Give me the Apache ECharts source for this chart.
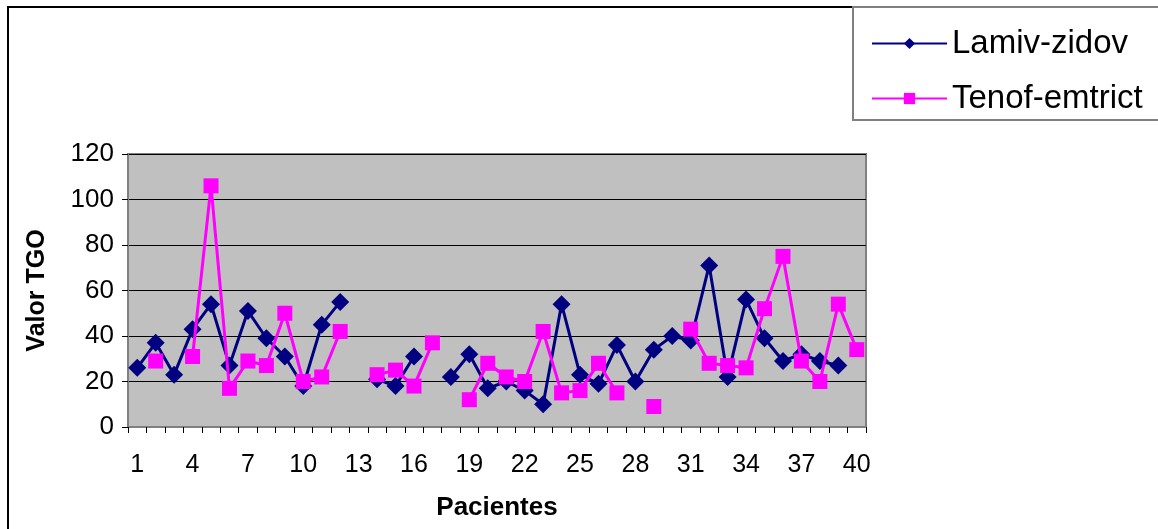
<!DOCTYPE html>
<html>
<head>
<meta charset="utf-8">
<script src="https://cdn.jsdelivr.net/npm/echarts@6/dist/echarts.min.js"></script>
<style>
  html, body { margin: 0; padding: 0; background: #fff; }
  #chart { width: 1158px; height: 529px; }
</style>
</head>
<body>
<div id="chart"></div>
<script>
const pacientes = ['1','2','3','4','5','6','7','8','9','10','11','12','13','14','15','16','17','18','19','20',
  '21','22','23','24','25','26','27','28','29','30','31','32','33','34','35','36','37','38','39','40'];

const lamivZidov = [26, 37, 23, 43, 54, 27, 51, 39, 31, 18, 45, 55, null, 21, 18, 31, null, 22, 32, 17,
  20, 16, 10, 54, 23, 19, 36, 20, 34, 40, 38, 71, 22, 56, 39, 29, 32, 29, 27, null];

const tenofEmtrict = [null, 29, null, 31, 106, 17, 29, 27, 50, 20, 22, 42, null, 23, 25, 18, 37, null, 12, 28,
  22, 20, 42, 15, 16, 28, 15, null, 9, null, 43, 28, 27, 26, 52, 75, 29, 20, 54, 34];

const yTicks = { min: 0, max: 120, interval: 20 };

const chart = echarts.init(document.getElementById('chart'));

const option = {
  animation: false,
  backgroundColor: '#fff',
  graphic: [
    // marco exterior del gráfico
    {
      type: 'rect',
      shape: { x: 8, y: 7, width: 1300, height: 700 },
      style: { fill: 'none', stroke: '#000', lineWidth: 2 },
      silent: true
    },
    // caja de la leyenda
    {
      type: 'rect',
      shape: { x: 853, y: 7, width: 400, height: 113 },
      style: { fill: '#fff', stroke: '#808080', lineWidth: 2 },
      silent: true,
      z: 0
    }
  ],
  legend: {
    orient: 'vertical',
    left: 866,
    top: 22,
    itemWidth: 75,
    itemHeight: 14,
    itemGap: 22,
    textStyle: {
      fontFamily: 'Liberation Sans, Arial, sans-serif',
      fontSize: 33,
      lineHeight: 32,
      color: '#000'
    },
    z: 5,
    data: ['Lamiv-zidov', 'Tenof-emtrict']
  },
  grid: {
    left: 128,
    top: 154,
    right: 292,
    bottom: 102,
    show: true,
    backgroundColor: '#C0C0C0',
    borderColor: '#808080',
    borderWidth: 2
  },
  xAxis: {
    type: 'category',
    data: pacientes,
    boundaryGap: true,
    name: 'Pacientes',
    nameLocation: 'middle',
    nameGap: 68,
    nameTextStyle: {
      fontFamily: 'Liberation Sans, Arial, sans-serif',
      fontWeight: 'bold',
      fontSize: 26,
      color: '#000'
    },
    axisLine: { lineStyle: { color: '#808080', width: 2 } },
    axisTick: { show: true, interval: 0, length: 6, lineStyle: { color: '#000' } },
    axisLabel: {
      interval: 2,
      margin: 26,
      fontFamily: 'Liberation Sans, Arial, sans-serif',
      fontSize: 25,
      color: '#000'
    },
    splitLine: { show: false }
  },
  yAxis: {
    type: 'value',
    min: yTicks.min,
    max: yTicks.max,
    interval: yTicks.interval,
    name: 'Valor TGO',
    nameLocation: 'middle',
    nameGap: 78,
    nameTextStyle: {
      fontFamily: 'Liberation Sans, Arial, sans-serif',
      fontWeight: 'bold',
      fontSize: 25,
      color: '#000'
    },
    axisLine: { show: true, lineStyle: { color: '#808080', width: 2 } },
    axisTick: { show: true, length: 6, lineStyle: { color: '#000' } },
    axisLabel: {
      margin: 14,
      fontFamily: 'Liberation Sans, Arial, sans-serif',
      fontSize: 26,
      color: '#000'
    },
    splitLine: { show: true, lineStyle: { color: '#000', width: 1 } }
  },
  series: [
    {
      name: 'Lamiv-zidov',
      type: 'line',
      data: lamivZidov,
      connectNulls: false,
      showAllSymbol: true,
      symbol: 'diamond',
      symbolSize: 18,
      color: '#000080',
      lineStyle: { color: '#000080', width: 3 },
      itemStyle: { color: '#000080' },
      z: 3
    },
    {
      name: 'Tenof-emtrict',
      type: 'line',
      data: tenofEmtrict,
      connectNulls: false,
      showAllSymbol: true,
      symbol: 'rect',
      symbolSize: 15,
      color: '#FF00FF',
      lineStyle: { color: '#FF00FF', width: 3 },
      itemStyle: { color: '#FF00FF' },
      z: 4
    }
  ]
};

chart.setOption(option);
</script>
</body>
</html>
